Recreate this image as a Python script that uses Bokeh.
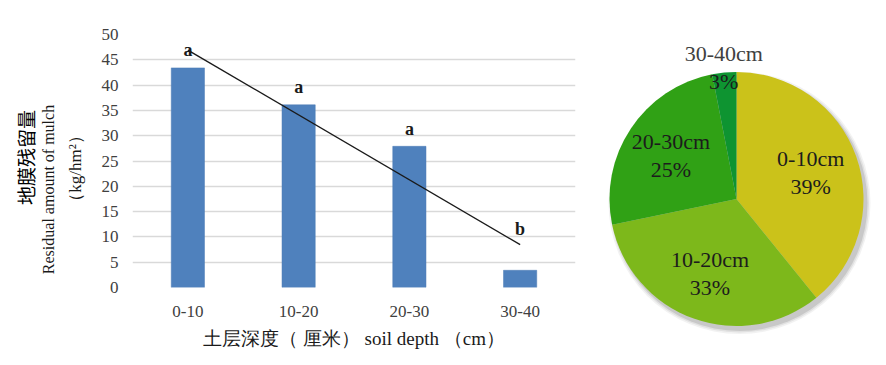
import numpy as np
from bokeh.plotting import figure
from bokeh.models import Range1d, FactorRange, SingleIntervalTicker, Label
from bokeh.layouts import row
from bokeh.embed import file_html
from bokeh.resources import INLINE
from bokeh.core.properties import value

# ---------------- data ----------------
depths = ["0-10", "10-20", "20-30", "30-40"]
residual = [43.4, 36.1, 27.9, 3.4]          # kg/hm2
letters = ["a", "a", "a", "b"]
pie_names = ["0-10cm", "10-20cm", "20-30cm", "30-40cm"]
pie_colors = ["#cbc21a", "#7db81b", "#30a115", "#0e9431"]
ytitle_lines = ["地膜残留量", "Residual amount of mulch", "（kg/hm²）"]
xtitle = "土层深度（ 厘米） soil depth （cm）"

SERIF = "Liberation Serif"
CJK = "Noto Sans CJK SC"
H = 357

# ---------------- y-axis title panel ----------------
t = figure(width=90, height=H, x_range=Range1d(0, 90), y_range=Range1d(0, H),
           x_axis_type=None, y_axis_type=None, min_border=0,
           output_backend="svg", toolbar_location=None)
t.outline_line_color = None
t.grid.visible = False
t.frame_align = False
for txt, xx, yy, font, size, col in [(ytitle_lines[0], 25, H - 157, CJK, "19px", "#000000"),
                                     (ytitle_lines[1], 48, H - 189, SERIF, "16px", "#1a1a1a"),
                                     (ytitle_lines[2], 75, H - 168, SERIF, "17px", "#1a1a1a")]:
    t.add_layout(Label(x=xx, y=yy, text=txt, angle=np.pi / 2, text_align="center",
                       text_baseline="middle", text_font=font, text_font_size=size,
                       text_color=col))

# ---------------- bar chart ----------------
p = figure(width=508, height=H,
           x_range=FactorRange(*depths, range_padding=0),
           y_range=Range1d(0, 50),
           output_backend="svg", toolbar_location=None,
           min_border_left=42, min_border_right=23,
           min_border_top=34, min_border_bottom=70)
p.outline_line_color = None
p.frame_align = False

p.vbar(x=depths, top=residual, width=0.30, fill_color="#4f81bd", line_color="#4a7ab5", line_width=0.5)

# linear trend
idx = np.arange(len(residual))
slope, intercept = np.polyfit(idx, residual, 1)
trend = slope * idx + intercept
p.line(x=[depths[0], depths[-1]], y=[trend[0], trend[-1]], line_color="#1a1a1a", line_width=1.4)

label_y = np.array(residual) + 3.5
label_y[-1] = trend[-1] + 3.0
p.text(x=depths, y=list(label_y), text=letters, text_align="center", text_baseline="middle",
       text_font=value(SERIF), text_font_size="18px", text_font_style="bold", text_color="#1a1a1a")

ticker = SingleIntervalTicker(interval=5)
p.yaxis.ticker = ticker
p.ygrid.ticker = ticker
p.ygrid.grid_line_color = "#d9d9d9"
p.ygrid.grid_line_width = 1.4
p.xgrid.grid_line_color = None

for ax in (p.xaxis, p.yaxis):
    ax.axis_line_color = None
    ax.major_tick_line_color = None
    ax.minor_tick_line_color = None
    ax.major_label_text_font = SERIF
    ax.major_label_text_font_size = "17px"
    ax.major_label_text_color = "#404040"
p.yaxis.major_label_standoff = 8
p.xaxis.major_label_standoff = 12
p.xaxis.axis_label = xtitle
p.xaxis.axis_label_text_font = SERIF
p.xaxis.axis_label_text_font_size = "19px"
p.xaxis.axis_label_text_font_style = "normal"
p.xaxis.axis_label_text_color = "#1a1a1a"
p.xaxis.axis_label_standoff = 8

# ---------------- pie chart ----------------
q = figure(width=280, height=H, x_range=Range1d(-138, 142), y_range=Range1d(-(H - 198.5), 198.5),
           x_axis_type=None, y_axis_type=None, min_border=0,
           output_backend="svg", toolbar_location=None)
q.outline_line_color = None
q.grid.visible = False
q.frame_align = False

R = 127
vals = np.array(residual)
frac = vals / vals.sum()
cum = np.concatenate([[0], np.cumsum(frac)])
starts = np.pi / 2 - cum[:-1] * 2 * np.pi
ends = np.pi / 2 - cum[1:] * 2 * np.pi

# soft shadow
for dr, a in [(4, 0.10), (2.5, 0.15), (1, 0.25)]:
    q.circle(x=[3], y=[-4], radius=R + dr, fill_color="#7f7f7f", fill_alpha=a, line_color=None)

q.wedge(x=0, y=0, radius=R, start_angle=list(starts), end_angle=list(ends), direction="clock",
        fill_color=pie_colors, line_color=None)

mid = (starts + ends) / 2
rf = np.where(frac < 0.05, 1.04, 0.62)
lx = R * rf * np.cos(mid)
ly = R * rf * np.sin(mid)
pcts = [f"{round(f * 100)}%" for f in frac]
name_colors = ["#1c1c1c" if f >= 0.05 else "#404040" for f in frac]
q.text(x=list(lx), y=list(ly + 14), text=pie_names, text_align="center", text_baseline="middle",
       text_font=value(SERIF), text_font_size="22px", text_color=name_colors)
q.text(x=list(lx), y=list(ly - 14), text=pcts, text_align="center", text_baseline="middle",
       text_font=value(SERIF), text_font_size="22px", text_color="#1c1c1c")

layout = row(t, p, q)
open("out.html", "w").write(file_html(layout, INLINE))
